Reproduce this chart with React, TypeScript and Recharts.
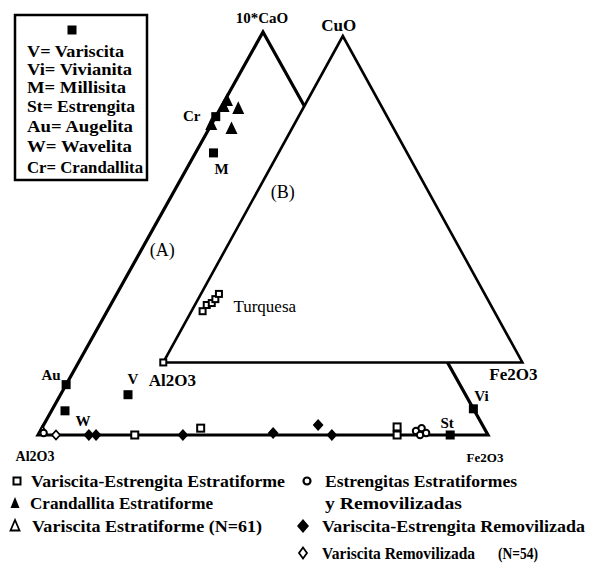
import { ScatterChart, Scatter, XAxis, YAxis } from 'recharts'

const W = 590
const H = 566
const FONT = "'Liberation Serif', 'Times New Roman', Times, serif"
const INK = '#000'

// corners of both diagrams, composition [top, Al2O3, Fe2O3] in %
const CORNER_NAMES_A = ['Al2O3', '10*CaO', 'Fe2O3']
const CORNER_NAMES_B = ['Al2O3', 'CuO', 'Fe2O3']
const CORNERS = [
  [0, 100, 0],
  [100, 0, 0],
  [0, 0, 100],
]

// reference minerals, [10*CaO, Al2O3, Fe2O3] in %
const MINERAL_CODES = ['V', 'Vi', 'M', 'St', 'Au', 'W', 'Cr']
const MINERAL_NAMES = ['Variscita', 'Vivianita', 'Millisita', 'Estrengita', 'Augelita', 'Wavelita', 'Crandallita']
const MINERAL_COMP = [
  [10, 75, 15],
  [6.5, 0, 93.5],
  [70, 26, 4],
  [0, 8.4, 91.6],
  [12.5, 87.5, 0],
  [6, 91, 3],
  [79, 21, 0],
]

// samples in the 10*CaO - Al2O3 - Fe2O3 diagram (A)
const VE_ESTRATIFORME = [
  [0, 78.5, 21.5],
  [1.7, 63, 35.3],
  [2, 19.2, 78.8],
  [0, 20.2, 79.8],
]
const CRANDALLITA = [
  [83, 16.5, 0.5],
  [81, 15, 4],
  [76, 19, 5],
  [77, 23, 0],
  [81.5, 18, 0.5],
]
const V_ESTRATIFORME = [[1, 98.5, 0.5]]
const ESTRENGITAS = [
  [0.5, 98.5, 1],
  [1, 15.5, 83.5],
  [1.7, 13.9, 84.4],
  [0.5, 13.5, 86],
  [0, 15.1, 84.9],
]
const VE_REMOVILIZADA = [
  [0, 88.7, 11.3],
  [0, 87.1, 12.9],
  [0, 67.8, 32.2],
  [0.5, 47.5, 52],
  [2.5, 36.5, 61],
  [0, 34.7, 65.3],
]
const V_REMOVILIZADA = [[0, 96, 4]]

// samples in the CuO - Al2O3 - Fe2O3 diagram (B), [CuO, Al2O3, Fe2O3] in %
const B_SAMPLES = [
  [0, 100, 0],
  [15.7, 81.2, 3.1],
  [17.6, 79.1, 3.3],
  [18.2, 77.4, 4.4],
  [19.4, 75.8, 4.8],
  [21, 74, 5],
]

// plot frame: diagram A spans 0..100 on both axes
const PX_X = 4.5
const PX_Y = 4.03
const ORIGIN_PX = { x: 38, y: 435 }
const X_DOMAIN = [-ORIGIN_PX.x / PX_X, (W - ORIGIN_PX.x) / PX_X]
const Y_DOMAIN = [(ORIGIN_PX.y - H) / PX_Y, ORIGIN_PX.y / PX_Y]
// diagram B is an inset, placed and scaled inside the same frame
const B_ORIGIN = { x: 27.84, y: 18 }
const B_SCALE = { x: 0.798, y: 0.81 }

const toA = ([top, a, f]: number[]) => {
  const s = top + a + f
  return { x: ((f + top / 2) / s) * 100, y: (top / s) * 100 }
}
const toB = (v: number[]) => {
  const p = toA(v)
  return { x: B_ORIGIN.x + p.x * B_SCALE.x, y: B_ORIGIN.y + p.y * B_SCALE.y }
}

// label offsets in px
const MINERAL_LABEL_OFFSET = [
  [5, -16],
  [8, -13],
  [8, 16],
  [-3, -12],
  [-15, -10],
  [18, 10],
  [-24, -1],
]
const CORNER_LABEL_A = [
  { dx: -3, dy: 21, size: 14 },
  { dx: -1, dy: -14, size: 15 },
  { dx: -3, dy: 22, size: 13 },
]
const CORNER_LABEL_B = [
  { dx: 9, dy: 18, size: 17 },
  { dx: -4, dy: -11, size: 17 },
  { dx: -9, dy: 12, size: 17 },
]

type Pt = { cx?: number; cy?: number; payload?: any }

const none = () => <g />

const square = (s: number, filled: boolean) => (p: Pt) => (
  <rect
    x={p.cx! - s / 2}
    y={p.cy! - s / 2}
    width={s}
    height={s}
    fill={filled ? INK : '#fff'}
    stroke={INK}
    strokeWidth={filled ? 0 : 2}
  />
)
const triangle = (s: number, filled: boolean) => (p: Pt) => (
  <polygon
    points={`${p.cx},${p.cy! - s * 0.6} ${p.cx! - s / 2},${p.cy! + s * 0.45} ${p.cx! + s / 2},${p.cy! + s * 0.45}`}
    fill={filled ? INK : '#fff'}
    stroke={INK}
    strokeWidth={filled ? 0 : 1.8}
  />
)
const diamond = (s: number, filled: boolean) => (p: Pt) => (
  <polygon
    points={`${p.cx},${p.cy! - s / 2} ${p.cx! + s * 0.45},${p.cy} ${p.cx},${p.cy! + s / 2} ${p.cx! - s * 0.45},${p.cy}`}
    fill={filled ? INK : '#fff'}
    stroke={INK}
    strokeWidth={filled ? 0 : 1.8}
  />
)
const ring = (r: number) => (p: Pt) => <circle cx={p.cx} cy={p.cy} r={r} fill="#fff" stroke={INK} strokeWidth={2} />

const label = (p: Pt) => {
  const d = p.payload
  return (
    <text
      x={p.cx! + d.dx}
      y={p.cy! + d.dy}
      textAnchor="middle"
      dominantBaseline="central"
      style={{ fontFamily: FONT, fontSize: d.size, fontWeight: d.weight }}
      fill={INK}
    >
      {d.text}
    </text>
  )
}

const outlineA = CORNERS.map(toA)
const outlineB = CORNERS.map(toB)

const labels = [
  ...MINERAL_CODES.map((code, i) => ({
    ...toA(MINERAL_COMP[i]),
    text: code,
    dx: MINERAL_LABEL_OFFSET[i][0],
    dy: MINERAL_LABEL_OFFSET[i][1],
    size: 15,
    weight: 700,
  })),
  ...CORNER_NAMES_A.map((text, i) => ({ ...toA(CORNERS[i]), text, ...CORNER_LABEL_A[i], weight: 700 })),
  ...CORNER_NAMES_B.map((text, i) => ({ ...toB(CORNERS[i]), text, ...CORNER_LABEL_B[i], weight: 700 })),
  { x: 27.6, y: 45.9, text: '(A)', dx: 0, dy: 0, size: 18, weight: 400 },
  { x: 54.4, y: 60.3, text: '(B)', dx: 0, dy: 0, size: 18, weight: 400 },
  { ...toB(B_SAMPLES[3]), text: 'Turquesa', dx: 53, dy: 3, size: 17, weight: 400 },
]

const BOX_LINES = MINERAL_CODES.map((c, i) => `${c}= ${MINERAL_NAMES[i]}`)
const BOX_WIDTHS = [97, 105, 99, 108, 106, 105, 116]
const BOX_ROWS = [52, 70, 88, 107, 127, 147, 168]

const textStyle = { fontFamily: FONT, fontSize: 17, fontWeight: 700 }

function KeyBox() {
  return (
    <g>
      <rect x={15} y={15} width={132} height={165} fill="#fff" stroke={INK} strokeWidth={2.5} />
      <rect x={67.5} y={25.5} width={9} height={9} fill={INK} />
      {BOX_LINES.map((t, i) => (
        <text
          key={t}
          x={27}
          y={BOX_ROWS[i] + 5}
          style={textStyle}
          textLength={BOX_WIDTHS[i]}
          lengthAdjust="spacingAndGlyphs"
        >
          {t}
        </text>
      ))}
    </g>
  )
}

function LegendText({ x, y, w, children }: { x: number; y: number; w: number; children: string }) {
  return (
    <text x={x} y={y + 6} style={textStyle} textLength={w} lengthAdjust="spacingAndGlyphs">
      {children}
    </text>
  )
}

function SeriesLegend() {
  return (
    <g>
      <rect x={13.5} y={477.5} width={7} height={7} fill="#fff" stroke={INK} strokeWidth={2} />
      <LegendText x={31} y={481} w={254}>Variscita-Estrengita Estratiforme</LegendText>
      <polygon points="15,497 10.5,508 19.5,508" fill={INK} />
      <LegendText x={30} y={503} w={183}>Crandallita Estratiforme</LegendText>
      <polygon points="15,520 10.5,530.5 19.5,530.5" fill="#fff" stroke={INK} strokeWidth={1.8} />
      <LegendText x={32} y={526} w={230}>Variscita Estratiforme (N=61)</LegendText>

      <circle cx={307} cy={481} r={3.5} fill="#fff" stroke={INK} strokeWidth={2.2} />
      <LegendText x={325} y={481} w={192}>Estrengitas Estratiformes</LegendText>
      <LegendText x={325} y={503} w={137}>y Removilizadas</LegendText>
      <polygon points="303,519 309,526 303,533 297,526" fill={INK} />
      <LegendText x={322} y={526} w={263}>Variscita-Estrengita Removilizada</LegendText>
      <polygon points="303,547.5 307,553 303,558.5 299,553" fill="#fff" stroke={INK} strokeWidth={1.8} />
      <LegendText x={322} y={553} w={153}>Variscita Removilizada</LegendText>
      <LegendText x={498} y={553} w={40}>(N=54)</LegendText>
    </g>
  )
}

export default function App() {
  return (
    <div style={{ position: 'absolute', left: 0, top: 0, width: W, height: H, background: '#fff' }}>
      <ScatterChart width={W} height={H} margin={{ top: 0, right: 0, bottom: 0, left: 0 }}>
        <XAxis type="number" dataKey="x" domain={X_DOMAIN} hide allowDataOverflow />
        <YAxis type="number" dataKey="y" domain={Y_DOMAIN} hide allowDataOverflow />
        <Scatter
          data={outlineA}
          shape={none}
          line={{ stroke: INK, strokeWidth: 3.2, fill: 'none' }}
          lineJointType="linearClosed"
          isAnimationActive={false}
        />
        <Scatter
          data={outlineB}
          shape={none}
          line={{ stroke: INK, strokeWidth: 2.6, fill: '#fff' }}
          lineJointType="linearClosed"
          isAnimationActive={false}
        />
        <Scatter data={VE_ESTRATIFORME.map(toA)} shape={square(7, false)} isAnimationActive={false} />
        <Scatter data={B_SAMPLES.map(toB)} shape={square(6, false)} isAnimationActive={false} />
        <Scatter data={V_ESTRATIFORME.map(toA)} shape={triangle(9, false)} isAnimationActive={false} />
        <Scatter data={ESTRENGITAS.map(toA)} shape={ring(3.2)} isAnimationActive={false} />
        <Scatter data={V_REMOVILIZADA.map(toA)} shape={diamond(9, false)} isAnimationActive={false} />
        <Scatter data={VE_REMOVILIZADA.map(toA)} shape={diamond(12, true)} isAnimationActive={false} />
        <Scatter data={CRANDALLITA.map(toA)} shape={triangle(12, true)} isAnimationActive={false} />
        <Scatter data={MINERAL_COMP.map(toA)} shape={square(9, true)} isAnimationActive={false} />
        <Scatter data={labels} shape={label} isAnimationActive={false} />
      </ScatterChart>
      <svg width={W} height={H} style={{ position: 'absolute', left: 0, top: 0, pointerEvents: 'none' }}>
        <KeyBox />
        <SeriesLegend />
      </svg>
    </div>
  )
}
